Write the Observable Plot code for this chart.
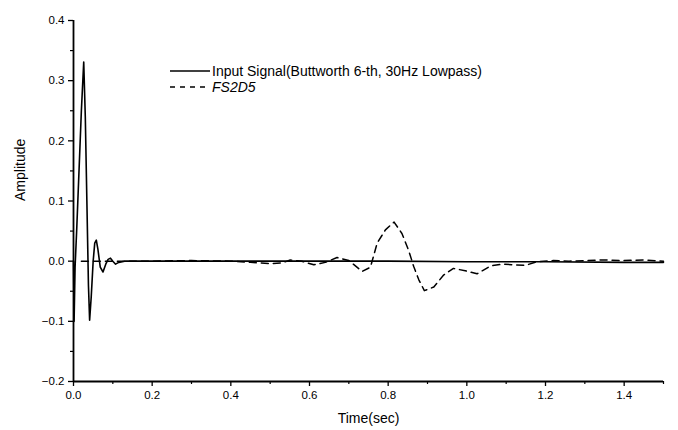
<!DOCTYPE html>
<html>
<head>
<meta charset="utf-8">
<script src="https://cdn.jsdelivr.net/npm/d3@7"></script>
<script src="https://cdn.jsdelivr.net/npm/@observablehq/plot@0.6"></script>
<style>
  html, body { margin: 0; padding: 0; background: #fff; }
  #wrap { position: relative; width: 678px; height: 430px; font-family: "Liberation Sans", Arial, sans-serif; }
  #legend { position: absolute; left: 170px; top: 63px; font-size: 14px; color: #000; }
  #legend .row { display: flex; align-items: center; height: 16px; }
  #legend svg { margin-right: 2px; }
</style>
</head>
<body>
<div id="wrap"><div id="legend"></div></div>
<script>
// Input signal (Buttworth 6-th, 30Hz Lowpass)
const inputT = [0, 0.0015, 0.004, 0.008, 0.014, 0.020, 0.026, 0.030, 0.034, 0.038, 0.041, 0.045, 0.050, 0.054, 0.058, 0.062, 0.068, 0.075, 0.082, 0.088, 0.094, 0.100, 0.107, 0.115, 0.13, 0.2, 0.4, 0.6, 0.8, 1.0, 1.2, 1.4, 1.5];
const inputY = [0, -0.10, -0.01, 0.05, 0.15, 0.25, 0.331, 0.24, 0.10, -0.04, -0.098, -0.06, 0.0, 0.03, 0.035, 0.02, -0.01, -0.018, -0.005, 0.003, 0.005, 0.0, -0.005, -0.002, 0, 0, 0, 0, 0, -0.001, -0.001, -0.002, -0.002];

// FS2D5
const fsT = [0.02, 0.1, 0.2, 0.3, 0.4, 0.45, 0.5, 0.53, 0.551, 0.58, 0.611, 0.640, 0.670, 0.700, 0.734, 0.755, 0.772, 0.793, 0.815, 0.835, 0.852, 0.865, 0.878, 0.892, 0.916, 0.941, 0.966, 0.996, 1.026, 1.06, 1.09, 1.119, 1.149, 1.178, 1.22, 1.26, 1.3, 1.35, 1.4, 1.45, 1.5];
const fsY = [0, 0, 0, 0.001, 0.0, -0.002, -0.004, -0.003, 0.002, 0.0, -0.006, -0.002, 0.006, 0.001, -0.017, -0.01, 0.03, 0.052, 0.065, 0.046, 0.018, -0.009, -0.031, -0.049, -0.043, -0.023, -0.012, -0.016, -0.021, -0.008, -0.005, -0.006, -0.007, -0.001, 0.001, 0.0, 0.001, 0.002, 0.001, 0.002, 0.0];

const xTicks = [0, 0.2, 0.4, 0.6, 0.8, 1.0, 1.2, 1.4];
const xMinor = [0.1, 0.3, 0.5, 0.7, 0.9, 1.1, 1.3, 1.5];
const yTicks = [-0.2, -0.1, 0.0, 0.1, 0.2, 0.3, 0.4];
const yMinor = [-0.15, -0.05, 0.05, 0.15, 0.25, 0.35];

const seriesNames = ["Input Signal(Buttworth 6-th, 30Hz Lowpass)", "FS2D5"];
const xLabel = "Time(sec)";
const yLabel = "Amplitude";

const inputData = inputT.map((t, i) => ({t, v: inputY[i]}));
const fsData = fsT.map((t, i) => ({t, v: fsY[i]}));

const chart = Plot.plot({
  width: 678,
  height: 430,
  marginLeft: 73,
  marginRight: 15,
  marginTop: 20,
  marginBottom: 49,
  x: {domain: [0, 1.5]},
  y: {domain: [-0.2, 0.4]},
  style: {fontFamily: "'Liberation Sans', Arial, sans-serif", fontSize: "11px", color: "#000", background: "#fff"},
  marks: [
    Plot.axisX(xTicks, {tickSize: 5, tickPadding: 4, tickFormat: d3.format(".1f"), label: null, fontSize: 11.5, strokeWidth: 1.3}),
    Plot.axisX(xMinor, {tickSize: 3, tickFormat: () => "", label: null, strokeWidth: 1.2}),
    Plot.axisY(yTicks, {tickSize: 5, tickPadding: 4, tickFormat: d3.format(".1f"), label: null, fontSize: 11.5, strokeWidth: 1.3}),
    Plot.axisY(yMinor, {tickSize: 3, tickFormat: () => "", label: null, strokeWidth: 1.2}),
    Plot.ruleX([0], {stroke: "#000", strokeWidth: 1.8}),
    Plot.ruleY([-0.2], {stroke: "#000", strokeWidth: 1.8}),
    Plot.text([xLabel], {frameAnchor: "bottom", dy: 41, fontSize: 14}),
    Plot.text([yLabel], {frameAnchor: "left", dx: -53, rotate: -90, fontSize: 14}),
    Plot.line(fsData, {x: "t", y: "v", stroke: "#000", strokeWidth: 1.5, strokeDasharray: "7,5"}),
    Plot.line(inputData, {x: "t", y: "v", stroke: "#000", strokeWidth: 1.6})
  ]
});

const wrap = document.getElementById("wrap");
wrap.insertBefore(chart, wrap.firstChild);

const legend = document.getElementById("legend");
const dashes = [null, "5,5"];
seriesNames.forEach((name, i) => {
  const row = document.createElement("div");
  row.className = "row";
  const ns = "http://www.w3.org/2000/svg";
  const s = document.createElementNS(ns, "svg");
  s.setAttribute("width", 40);
  s.setAttribute("height", 6);
  const l = document.createElementNS(ns, "line");
  l.setAttribute("x1", 0); l.setAttribute("x2", 40);
  l.setAttribute("y1", 3); l.setAttribute("y2", 3);
  l.setAttribute("stroke", "#000");
  l.setAttribute("stroke-width", 1.6);
  if (dashes[i]) l.setAttribute("stroke-dasharray", dashes[i]);
  s.appendChild(l);
  const span = document.createElement("span");
  span.textContent = name;
  if (i === 1) span.style.fontStyle = "italic";
  row.appendChild(s);
  row.appendChild(span);
  legend.appendChild(row);
});
</script>
</body>
</html>
